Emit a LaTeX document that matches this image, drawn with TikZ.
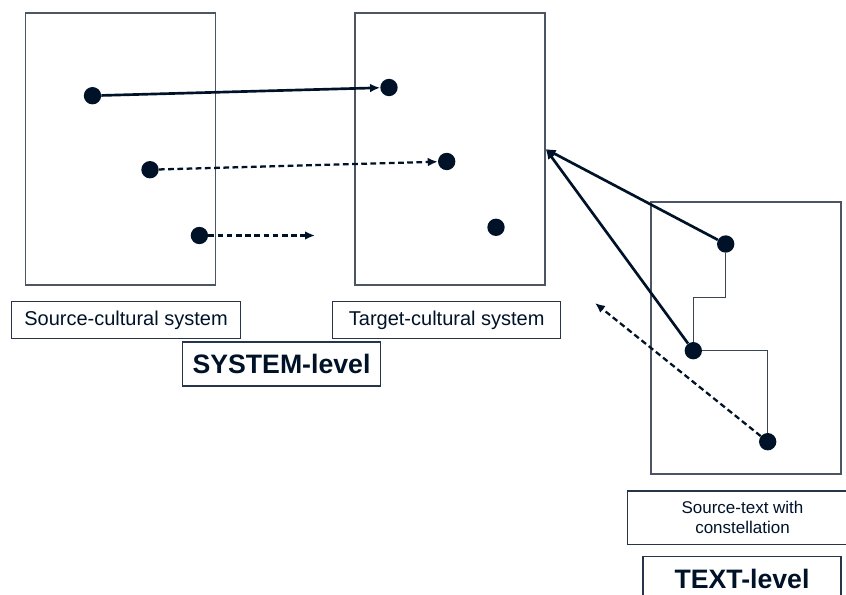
\documentclass[tikz,border=0pt]{standalone}
\usepackage{fontspec}
\setmainfont{Liberation Sans}
\usetikzlibrary{arrows.meta}
\definecolor{tinta}{RGB}{0,18,40}
\definecolor{borda}{RGB}{75,85,100}

\begin{document}
\begin{tikzpicture}[x=0.75pt,y=-0.75pt,
	ponto/.style={circle,fill=tinta,inner sep=0pt,minimum size=13pt},
	quadro/.style={draw=borda,line width=1pt,inner sep=0pt,minimum width=142.5pt,minimum height=204pt},
	rotulo/.style={draw=tinta!85,line width=1pt,inner sep=0pt,text=tinta,font=\fontsize{15}{18}\selectfont},
	nivel/.style={rotulo,minimum width=148.5pt,minimum height=32.8pt,font=\fontsize{20}{24}\selectfont\bfseries},
	seta/.style={-{Latex[length=7.5pt,width=6.5pt]},tinta,line width=2pt},
	tracejada/.style={seta,line width=1.7pt,dash pattern=on 4.3pt off 2.6pt},
	degrau/.style={draw=borda!80!black,line width=1pt}]
	\useasboundingbox (0,0) rectangle (846,595);
	
	% Sistemas (quadros)
	\node[quadro] (src) at (120.5,149) {};
	\node[quadro] (tgt) at (450,149) {};
	\node[quadro] (txt) at (746,338) {};
	
	% Pontos
	\node[ponto] (d1) at (92.5,95.7) {};
	\node[ponto] (d2) at (150,169.7) {};
	\node[ponto] (d3) at (199.4,235.5) {};
	\node[ponto] (t1) at (389,87.5) {};
	\node[ponto] (t2) at (446.7,161.5) {};
	\node[ponto] (t3) at (496,227.3) {};
	\node[ponto] (r1) at (725.7,244) {};
	\node[ponto] (r2) at (693.3,350.7) {};
	\node[ponto] (r3) at (767.7,441.7) {};
	\coordinate (fim) at (315,235.5);
	\coordinate (volta) at (595,303);
	
	% Setas entre os sistemas
	\draw[seta] (d1) -- (t1);
	\draw[tracejada] (d2) -- (t2);
	\draw[tracejada] (d3) -- (fim);
	\draw[seta] (r1) -- (tgt.east);
	\draw[seta] (r2) -- (tgt.east);
	\draw[tracejada] (r3) -- (volta);
	
	% Constelacao no texto
	\draw[degrau] (r1) -- ++(0,53.5) -| (r2);
	\draw[degrau] (r2) -| (r3);
	
	% Rotulos
	\node[rotulo,minimum width=172pt,minimum height=27.5pt] (lsrc) at (126,320) {Source-cultural system};
	\node[rotulo,minimum width=171pt,minimum height=27.5pt] (ltgt) at (446.7,320) {Target-cultural system};
	\node[nivel] (lsys) at (281.5,364) {SYSTEM-level};
	\node[rotulo,minimum width=173pt,minimum height=40pt,align=center,font=\fontsize{12.75}{15}\selectfont] (ltxt) at (742.5,517.7) {Source-text with\\constellation};
	\node[nivel] (lniv) at (742,578.5) {TEXT-level};
\end{tikzpicture}
\end{document}
